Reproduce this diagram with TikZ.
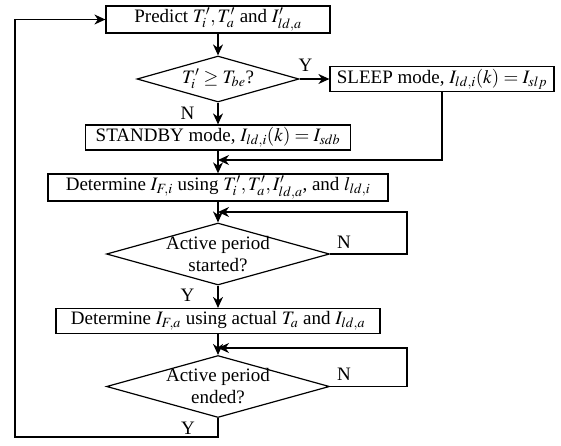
\documentclass[tikz,border=0pt]{standalone}
\usepackage{mathptmx}
\usepackage{fontspec}
\setmainfont{Liberation Serif}
\usetikzlibrary{shapes.geometric,arrows.meta}
\begin{document}
\begin{tikzpicture}[x=1pt,y=-1pt,line width=1.2pt,font=\fontsize{19}{22}\selectfont,
    stepbox/.style={draw,rectangle,minimum height=25pt,inner sep=2pt},
    decision/.style={draw,diamond,aspect=3.5,inner sep=-8pt,align=center,minimum width=223pt,minimum height=62pt},
    tag/.style={inner sep=2pt},
    >={Stealth[length=11pt,width=10pt,inset=3.5pt]}]
    \useasboundingbox (0,0) rectangle (561,445);
    \node[stepbox,minimum width=224pt] (predict) at (218,19.5) {Predict $T_i^\prime, T_a^\prime$ and $I_{ld,a}^\prime$};
    \node[decision,minimum width=162pt,minimum height=46pt] (dec1) at (218,79) {$T_i^\prime \geq T_{be}$?};
    \node[stepbox,minimum width=224pt] (sleep) at (442,79) {SLEEP mode, $I_{ld,i}(k) = I_{slp}$};
    \node[stepbox,minimum width=265pt] (standby) at (218,137.5) {STANDBY mode, $I_{ld,i}(k) = I_{sdb}$};
    \node[stepbox,minimum width=340pt] (detF) at (218,187.5) {Determine $I_{F,i}$ using $T_i^\prime, T_a^\prime, I_{ld,a}^\prime$, and $l_{ld,i}$};
    \node[decision] (dec2) at (218,254) {Active period\\started?};
    \node[stepbox,minimum width=324pt] (detA) at (218,321) {Determine $I_{F,a}$ using actual $T_a$ and $I_{ld,a}$};
    \node[decision] (dec3) at (218,386.5) {Active period\\ended?};
    \coordinate (m1) at (218,160);
    \coordinate (c2) at (218,212); \coordinate (r2) at (407,212);
    \coordinate (c3) at (218,348); \coordinate (r3) at (407,348);
    \coordinate (bl) at (15,437);
    \draw[->] (predict) -- (dec1);
    \draw[->] (dec1) -- node[tag,pos=.2,above=5pt] {Y} (sleep);
    \draw[->] (dec1) -- node[tag,pos=.48,left=21pt] {N} (standby);
    \draw[->] (sleep.south) |- (m1);
    \draw[->] (standby) -- (detF);
    \draw[->] (detF) -- (dec2);
    \draw[->] (dec2.east) -| node[tag,pos=.09,above=3pt] {N} (r2) -- (c2);
    \draw[->] (dec2) -- node[tag,pos=.43,left=21pt] {Y} (detA);
    \draw[->] (detA) -- (dec3);
    \draw[->] (dec3.east) -| node[tag,pos=.09,above=3pt] {N} (r3) -- (c3);
    \draw[->] (dec3.south) |- node[tag,pos=.574,above] {Y} (bl) |- (predict.west);
\end{tikzpicture}
\end{document}
